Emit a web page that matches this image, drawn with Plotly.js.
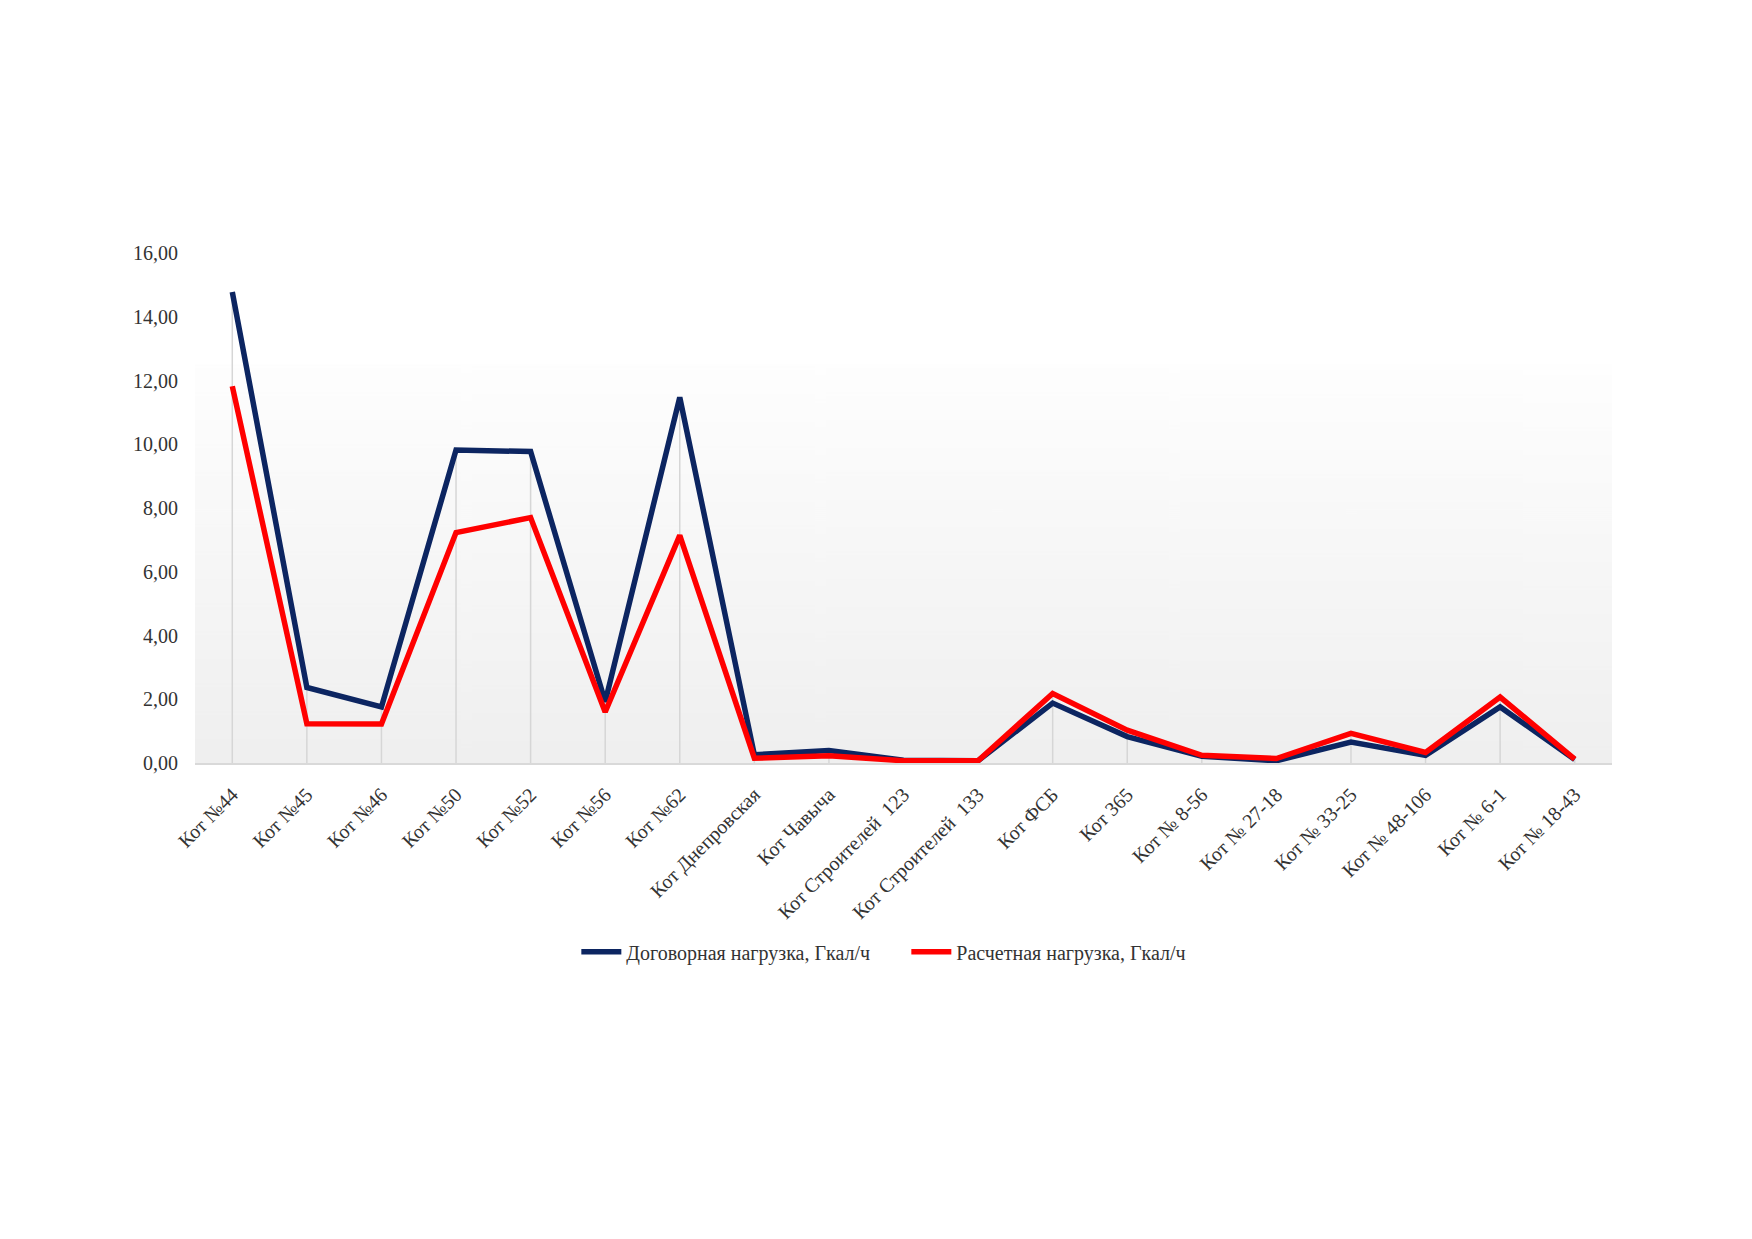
<!DOCTYPE html>
<html>
<head>
<meta charset="utf-8">
<script src="https://cdn.plot.ly/plotly-3.0.1.min.js"></script>
<style>
  html, body { margin: 0; padding: 0; background: #fff; }
  #chart { width: 1752px; height: 1239px; }
</style>
</head>
<body>
<div id="chart"></div>
<script>
// Boiler houses (categories)
const boilers = ['Кот №44', 'Кот №45', 'Кот №46', 'Кот №50', 'Кот №52', 'Кот №56', 'Кот №62',
    'Кот Днепровская', 'Кот Чавыча', 'Кот Строителей  123', 'Кот Строителей  133', 'Кот ФСБ',
    'Кот 365', 'Кот № 8-56', 'Кот № 27-18', 'Кот № 33-25', 'Кот № 48-106', 'Кот № 6-1', 'Кот № 18-43'];

// Contract load, Gcal/h
const contractLoad = [14.78, 2.37, 1.76, 9.82, 9.77, 1.92, 11.47,
    0.26, 0.39, 0.09, 0.07, 1.88, 0.83, 0.21, 0.07, 0.66, 0.24, 1.76, 0.11];

// Calculated load, Gcal/h
const calcLoad = [11.82, 1.23, 1.22, 7.23, 7.70, 1.60, 7.14,
    0.15, 0.23, 0.07, 0.07, 2.18, 1.03, 0.24, 0.14, 0.93, 0.33, 2.07, 0.12];

const seriesNames = ['Договорная нагрузка, Гкал/ч', 'Расчетная нагрузка, Гкал/ч'];
const yTicks = [0, 2, 4, 6, 8, 10, 12, 14, 16];

// Excel-style drop lines: from the higher point of each category down to the axis
const dropX = [], dropY = [];
boilers.forEach((b, i) => {
    dropX.push(b, b, null);
    dropY.push(0, Math.max(contractLoad[i], calcLoad[i]), null);
});

// soft vertical gradient for the lower part of the plot area
function gradientUrl() {
    const c = document.createElement('canvas');
    c.width = 8; c.height = 400;
    const g = c.getContext('2d');
    const grad = g.createLinearGradient(0, 0, 0, 400);
    grad.addColorStop(0, '#fefefe');
    grad.addColorStop(1, '#efefef');
    g.fillStyle = grad;
    g.fillRect(0, 0, 8, 400);
    return c.toDataURL();
}

const font = 'Liberation Serif, Times New Roman, serif';

const data = [
    {
        x: dropX, y: dropY, mode: 'lines', showlegend: false, hoverinfo: 'skip',
        line: {color: '#d6d6d6', width: 1.5}
    },
    {
        x: boilers, y: contractLoad, mode: 'lines', name: seriesNames[0],
        line: {color: '#0c2561', width: 5.5}
    },
    {
        x: boilers, y: calcLoad, mode: 'lines', name: seriesNames[1],
        line: {color: '#ff0000', width: 5.5}
    }
];

const layout = {
    width: 1752, height: 1239,
    margin: {l: 195, r: 140, t: 253, b: 476},
    paper_bgcolor: '#ffffff',
    plot_bgcolor: 'rgba(0,0,0,0)',
    separators: ', ',
    font: {family: font, size: 20, color: '#333333'},
    showlegend: true,
    legend: {
        orientation: 'h', x: 0.502, xanchor: 'center', y: -0.37, yanchor: 'middle',
        font: {family: font, size: 20, color: '#333333'},
        itemwidth: 40, entrywidth: 275, traceorder: 'normal'
    },
    xaxis: {
        type: 'category', range: [-0.5, boilers.length - 0.5],
        showgrid: false, zeroline: false,
        showline: true, linecolor: '#d9d9d9', linewidth: 2,
        tickangle: -45, ticks: '', ticklabelstandoff: 10,
        tickfont: {family: font, size: 20, color: '#333333'}
    },
    yaxis: {
        range: [0, 16], tickvals: yTicks, tickformat: '.2f',
        showgrid: false, zeroline: false, showline: false,
        ticks: '', ticklabelstandoff: 16,
        tickfont: {family: font, size: 20, color: '#333333'}
    },
    images: [{
        source: gradientUrl(), xref: 'paper', yref: 'y',
        x: 0, y: 12.5, sizex: 1, sizey: 12.5,
        sizing: 'stretch', layer: 'below'
    }]
};

Plotly.newPlot('chart', data, layout, {staticPlot: true});
</script>
</body>
</html>
